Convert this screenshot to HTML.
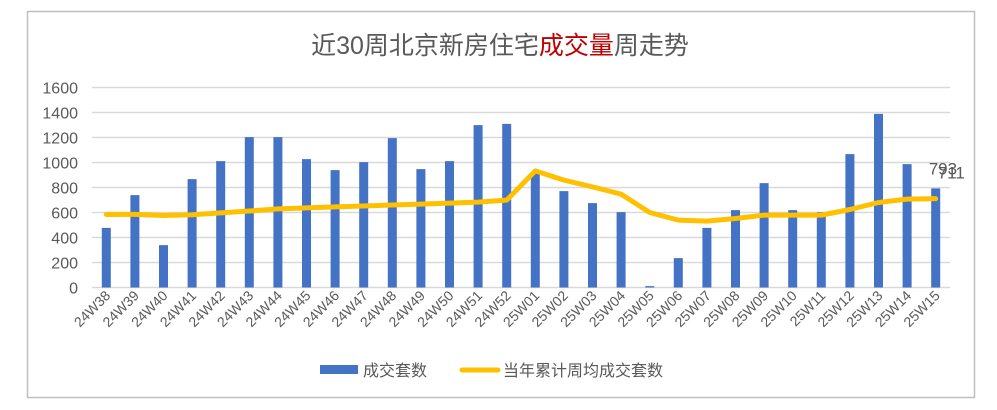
<!DOCTYPE html>
<html><head><meta charset="utf-8">
<style>
html,body{margin:0;padding:0;background:#fff;}
svg text{font-family:"Liberation Sans","Noto Sans CJK SC",sans-serif;}
</style></head>
<body>
<svg id="chart" width="997" height="405" viewBox="0 0 997 405" xmlns="http://www.w3.org/2000/svg">
<rect x="27.5" y="11.5" width="947" height="386" fill="#fff" stroke="#bfbfbf" stroke-width="1.5"/>
<text x="500" y="54" text-anchor="middle" font-size="25" fill="#595959">近30周北京新房住宅<tspan fill="#c00000">成交量</tspan>周走势</text>
<g id="grid"></g>
<g id="bars"></g>
<g id="line"></g>
<g id="labels"></g>
<g>
<rect x="320" y="365" width="38" height="9" fill="#4472c4"/>
<text x="363" y="376" font-size="16" fill="#595959">成交套数</text>
<line x1="462" y1="370" x2="498" y2="370" stroke="#ffc000" stroke-width="5" stroke-linecap="round"/>
<text x="503" y="376" font-size="16" fill="#595959">当年累计周均成交套数</text>
</g>
</svg>
<script>
const categories=["24W38","24W39","24W40","24W41","24W42","24W43","24W44","24W45","24W46","24W47","24W48","24W49","24W50","24W51","24W52","25W01","25W02","25W03","25W04","25W05","25W06","25W07","25W08","25W09","25W10","25W11","25W12","25W13","25W14","25W15"];
const salesValues=[477,739,339,867,1011,1203,1203,1027,939,1003,1195,947,1011,1299,1309,915,771,675,603,11,235,477,619,835,619,603,1067,1389,987,793];
const avgValues=[584,585,576,582,597,612,629,637,645,652,660,667,675,683,699,933,859,805,747,600,539,531,552,579,579,579,624,680,707,711];
const yTicks=[0,200,400,600,800,1000,1200,1400,1600];
const NS="http://www.w3.org/2000/svg";
const L=92,R=950,T=87.5,B=287.5,YMAX=1600;
const step=(R-L)/categories.length;
const xc=i=>L+step*(i+0.5);
const y=v=>B-(v/YMAX)*(B-T);
function mk(tag,attrs,parent,txt){const e=document.createElementNS(NS,tag);for(const k in attrs)e.setAttribute(k,attrs[k]);if(txt!==undefined)e.textContent=txt;document.getElementById(parent).appendChild(e);return e;}
yTicks.forEach(t=>{
 const g=mk('line',{x1:L,x2:R,y1:y(t),y2:y(t),stroke:'#d9d9d9','stroke-width':1.5},'grid');
 
 
 const tx=mk('text',{x:78,y:y(t)+6,'text-anchor':'end','font-size':16,fill:'#595959'},'grid',String(t));
 
 
});
categories.forEach((c,i)=>{
 const b=mk('rect',{x:xc(i)-4.5,y:y(salesValues[i]),width:9,height:B-y(salesValues[i]),fill:'#4472c4'},'bars');
 
 
 const tx=mk('text',{x:0,y:0,'text-anchor':'end','font-size':14,fill:'#595959',transform:`translate(${xc(i)+5},${B+9}) rotate(-45)`},'labels',c);
 
 
});
const pts=avgValues.map((v,i)=>xc(i)+','+y(v)).join(' ');
const pl=mk('polyline',{points:pts,fill:'none',stroke:'#ffc000','stroke-width':5,'stroke-linejoin':'round','stroke-linecap':'round'},'line');


const n=categories.length-1;
const l1=mk('text',{x:xc(n)-7,y:y(salesValues[n])-14,'font-size':17,fill:'#595959'},'labels',String(salesValues[n]));


const l2=mk('text',{x:xc(n)+2,y:y(avgValues[n])-20,'font-size':17,fill:'#595959'},'labels',String(avgValues[n]));


</script>
</body></html>
